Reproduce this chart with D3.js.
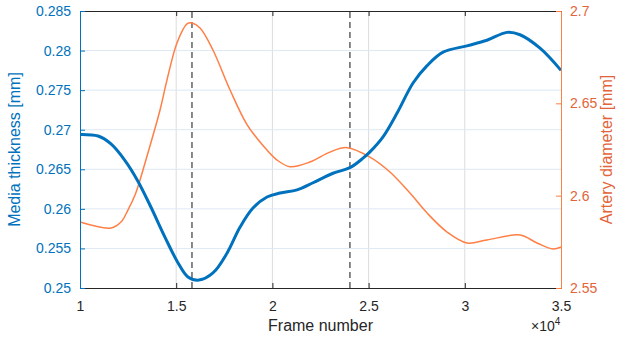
<!DOCTYPE html>
<html lang="en">
  <head>
    <meta charset="UTF-8" />
    <title>Media thickness vs artery diameter</title>
    <script src="https://d3js.org/d3.v7.min.js"></script>
    <style>
      body {
        margin: 0;
        background: #fff;
      }
      svg {
        font-family: "Liberation Sans", Arial, sans-serif;
      }
    </style>
  </head>
  <body>
    <svg id="chart" width="631" height="337"></svg>
    <script>
      // frame numbers and values
      const thickFrames = [10000, 10940, 11610, 12340, 13010, 13690, 14420, 15090, 15610, 16190, 16910, 17640, 18320, 18990, 19720, 20400, 21280, 22110, 23150, 24030, 24710, 25070, 25750, 26480, 27310, 28040, 28870, 30110, 31150, 32190, 32870, 33910, 35000];
      const thickness = [0.2694, 0.2692, 0.2682, 0.2661, 0.2635, 0.2602, 0.2564, 0.2532, 0.2514, 0.251, 0.2519, 0.2544, 0.2577, 0.2601, 0.2615, 0.262, 0.2624, 0.2633, 0.2645, 0.2652, 0.2664, 0.2672, 0.2691, 0.2721, 0.2759, 0.2781, 0.2798, 0.2806, 0.2813, 0.2823, 0.282, 0.2803, 0.2775];

      const diamFrames = [10000, 11610, 12130, 12490, 12860, 13120, 13530, 14160, 14520, 15040, 15560, 15820, 16240, 16910, 17800, 18680, 19510, 20240, 20910, 21950, 22990, 23880, 25070, 26110, 27150, 28040, 29080, 30110, 31150, 32870, 33750, 34580, 35000];
      const diameter = [2.5857, 2.5825, 2.5857, 2.5922, 2.6004, 2.6085, 2.6231, 2.6464, 2.6626, 2.6827, 2.693, 2.6935, 2.6908, 2.6789, 2.6572, 2.6385, 2.6272, 2.6193, 2.6157, 2.6182, 2.6236, 2.626, 2.6209, 2.6128, 2.6014, 2.5906, 2.5803, 2.5744, 2.576, 2.5787, 2.5744, 2.5711, 2.5722];

      const markers = [15820, 24030];
      const xTicks = [10000, 15000, 20000, 25000, 30000, 35000];
      const leftTicks = [0.25, 0.255, 0.26, 0.265, 0.27, 0.275, 0.28, 0.285];
      const rightTicks = [2.55, 2.6, 2.65, 2.7];

      const blue = "#0072BD";
      const orange = "#FF7F45";
      const orangeText = "#E2643A";
      const dark = "#262626";

      const margin = { left: 80, right: 70, top: 11, bottom: 49 };
      const width = 631;
      const height = 337;

      const svg = d3.select("#chart");

      const x = d3.scaleLinear().domain([10000, 35000]).range([margin.left, width - margin.right]);
      const yL = d3.scaleLinear().domain([0.25, 0.285]).range([height - margin.bottom, margin.top]);
      const yR = d3.scaleLinear().domain([2.55, 2.7]).range([height - margin.bottom, margin.top]);

      const x0 = margin.left;
      const x1 = width - margin.right;
      const y0 = height - margin.bottom;
      const y1 = margin.top;

      // grid
      svg.append("g")
        .selectAll("line")
        .data(xTicks.slice(1, -1))
        .enter()
        .append("line")
        .attr("x1", (d) => x(d))
        .attr("x2", (d) => x(d))
        .attr("y1", y0)
        .attr("y2", y1)
        .attr("stroke", "#dcdcdc")
        .attr("stroke-width", 1);

      svg.append("g")
        .selectAll("line")
        .data(leftTicks.slice(1, -1))
        .enter()
        .append("line")
        .attr("x1", x0)
        .attr("x2", x1)
        .attr("y1", (d) => yL(d))
        .attr("y2", (d) => yL(d))
        .attr("stroke", "#dde9f4")
        .attr("stroke-width", 1);

      // dashed markers
      svg.append("g")
        .selectAll("line")
        .data(markers)
        .enter()
        .append("line")
        .attr("x1", (d) => x(d))
        .attr("x2", (d) => x(d))
        .attr("y1", y0)
        .attr("y2", y1)
        .attr("stroke", "#3a3a3a")
        .attr("stroke-width", 1.2)
        .attr("stroke-dasharray", "6,4");

      // curves
      const lineL = d3.line()
        .x((d) => x(d[0]))
        .y((d) => yL(d[1]))
        .curve(d3.curveCatmullRom.alpha(0.5));
      const lineR = d3.line()
        .x((d) => x(d[0]))
        .y((d) => yR(d[1]))
        .curve(d3.curveCatmullRom.alpha(0.5));

      svg.append("path")
        .datum(diamFrames.map((f, i) => [f, diameter[i]]))
        .attr("d", lineR)
        .attr("fill", "none")
        .attr("stroke", orange)
        .attr("stroke-width", 1.5);

      svg.append("path")
        .datum(thickFrames.map((f, i) => [f, thickness[i]]))
        .attr("d", lineL)
        .attr("fill", "none")
        .attr("stroke", blue)
        .attr("stroke-width", 3);

      // axes
      const bottomAxis = svg.append("g")
        .attr("transform", `translate(0,${y0})`)
        .call(d3.axisBottom(x).tickValues(xTicks).tickSize(-5).tickPadding(13).tickFormat((d) => d / 10000));
      bottomAxis.select(".domain").attr("stroke", dark);
      bottomAxis.selectAll(".tick line").attr("stroke", dark);
      bottomAxis.selectAll("text").attr("fill", dark).attr("font-size", 14);

      const topAxis = svg.append("g")
        .attr("transform", `translate(0,${y1})`)
        .call(d3.axisTop(x).tickValues(xTicks).tickSize(-5).tickFormat(""));
      topAxis.select(".domain").attr("stroke", dark);
      topAxis.selectAll(".tick line").attr("stroke", dark);

      const leftAxis = svg.append("g")
        .attr("transform", `translate(${x0},0)`)
        .call(d3.axisLeft(yL).tickValues(leftTicks).tickSize(-5).tickPadding(9).tickFormat((d) => d3.format("")(+d.toFixed(3))));
      leftAxis.select(".domain").attr("stroke", blue);
      leftAxis.selectAll(".tick line").attr("stroke", blue);
      leftAxis.selectAll("text").attr("fill", blue).attr("font-size", 14);

      const rightAxis = svg.append("g")
        .attr("transform", `translate(${x1},0)`)
        .call(d3.axisRight(yR).tickValues(rightTicks).tickSize(-5).tickPadding(9).tickFormat((d) => +d.toFixed(2)));
      rightAxis.select(".domain").attr("stroke", orange);
      rightAxis.selectAll(".tick line").attr("stroke", orange);
      rightAxis.selectAll("text").attr("fill", orangeText).attr("font-size", 14);

      // labels
      svg.append("text")
        .attr("x", (x0 + x1) / 2)
        .attr("y", 331)
        .attr("text-anchor", "middle")
        .attr("fill", dark)
        .attr("font-size", 16)
        .text("Frame number");

      const exp = svg.append("text")
        .attr("x", x1 - 30)
        .attr("y", 331)
        .attr("fill", dark)
        .attr("font-size", 14);
      exp.append("tspan").text("×10");
      exp.append("tspan").attr("dy", -6).attr("font-size", 10).text("4");

      svg.append("text")
        .attr("transform", `translate(20,${(y0 + y1) / 2}) rotate(-90)`)
        .attr("text-anchor", "middle")
        .attr("fill", blue)
        .attr("font-size", 16)
        .text("Media thickness [mm]");

      svg.append("text")
        .attr("transform", `translate(612,${(y0 + y1) / 2}) rotate(-90)`)
        .attr("text-anchor", "middle")
        .attr("fill", orangeText)
        .attr("font-size", 16)
        .text("Artery diameter [mm]");
    </script>
  </body>
</html>
